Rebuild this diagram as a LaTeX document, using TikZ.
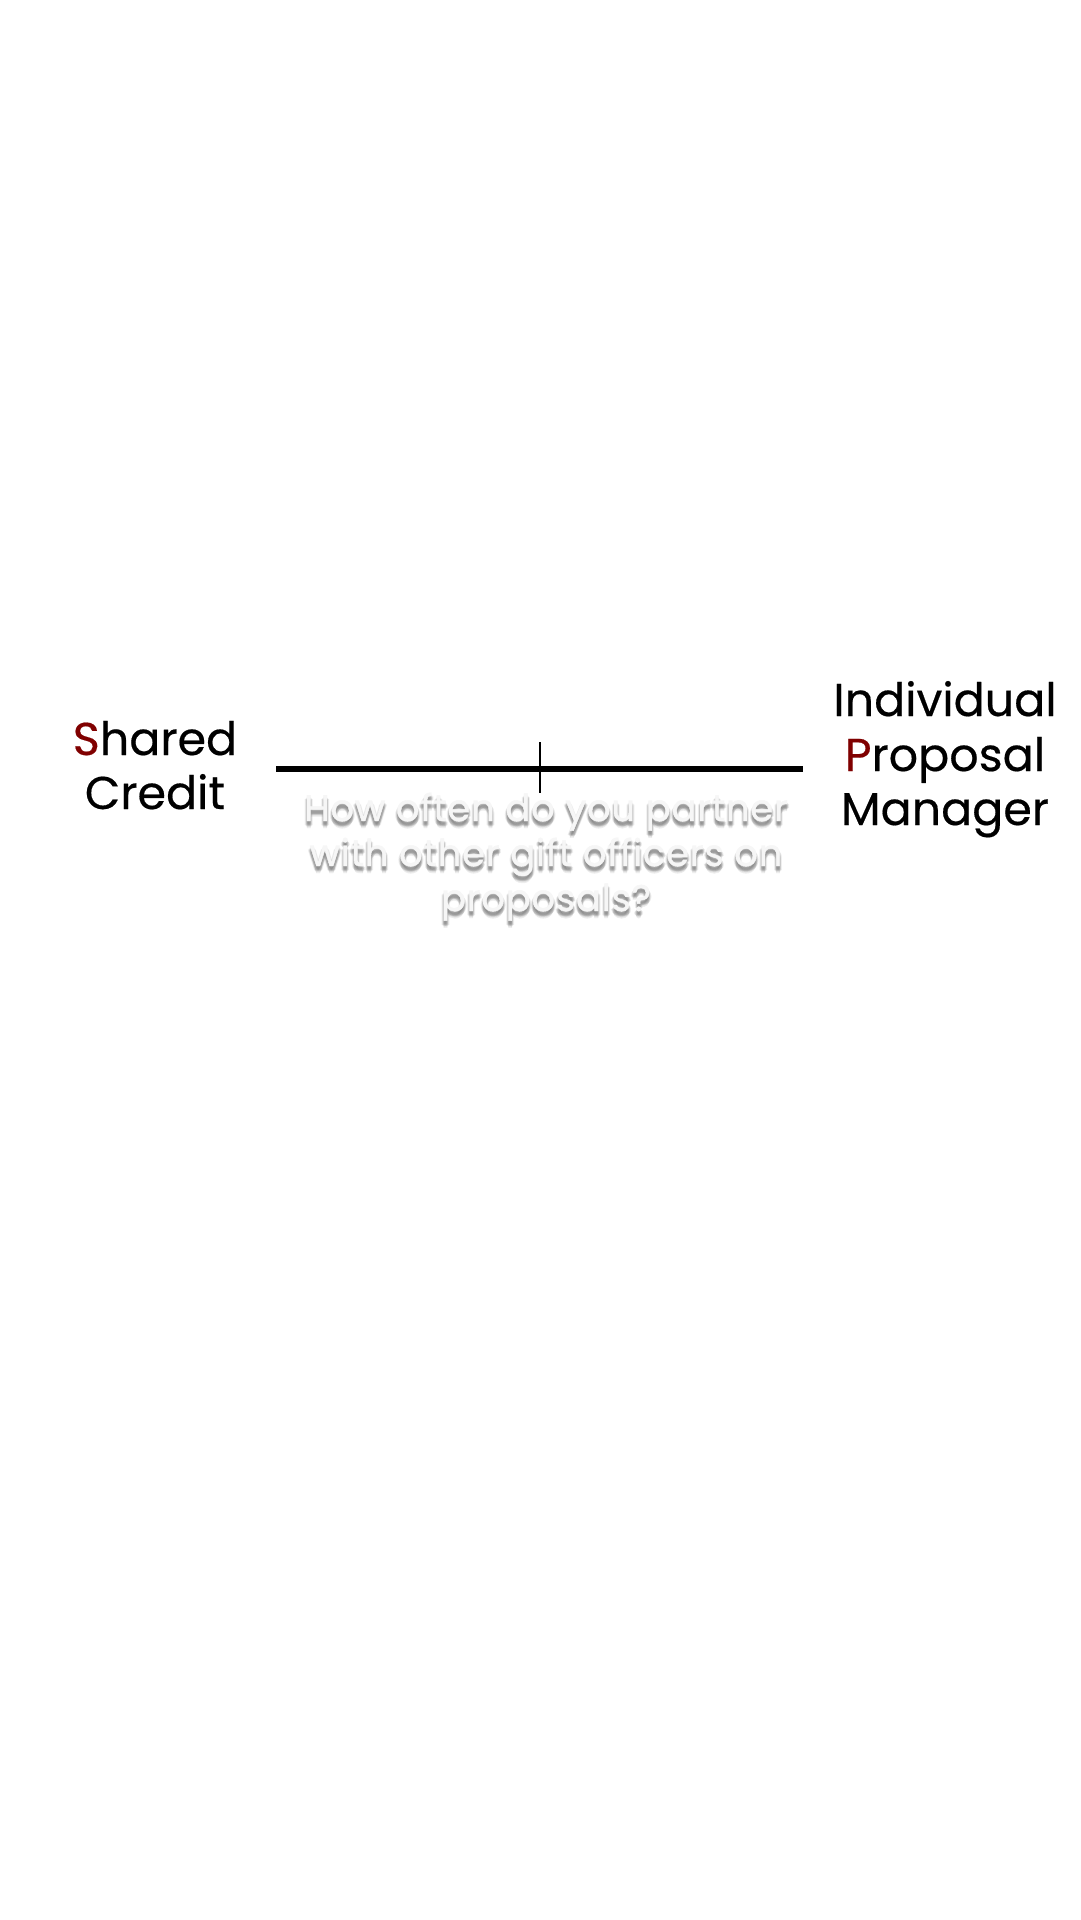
\documentclass[tikz,border=0pt]{standalone}
\usepackage{fontspec}
\setmainfont{Poppins}
\newfontfamily\labelfont[FakeBold=0.4]{Poppins}
\newfontfamily\qfont[FakeBold=1.2,LetterSpace=2]{Poppins}
\definecolor{accent}{RGB}{128,0,0}
\definecolor{qtext}{RGB}{246,246,246}
\definecolor{qshadow}{RGB}{120,120,120}
\tikzset{
  label/.style={font=\labelfont\fontsize{46}{56}\selectfont, text=black, anchor=base, inner sep=0pt},
  question/.style={font=\qfont\fontsize{37}{45}\selectfont, text=qtext, anchor=base, inner sep=0pt},
  qshade/.style={font=\qfont\fontsize{37}{45}\selectfont, text=qshadow, opacity=0.09, text opacity=0.09, anchor=base, inner sep=0pt},
  scale line/.style={line width=6pt, black},
  tickmark/.style={line width=2pt, black},
}
\newcommand{\qline}[3]{%
  \foreach \dx/\dy in {0/2,0/3,0/4,0/5,1/3,-1/3,1/4,-1/4,1/5,-1/5,0/6,2/4,-2/4,0/7}{
    \node[qshade] at ([xshift=\dx pt, yshift=-\dy pt]#2) {#3};
  }
  \node[question] (#1) at (#2) {#3};
}
\begin{document}
\begin{tikzpicture}[x=1pt,y=-1pt]
\useasboundingbox[fill=white] (0,0) rectangle (1080,1920);
% scale line
\coordinate (ls) at (276,769);
\coordinate (le) at (803,769);
\coordinate (tt) at (540,742);
\coordinate (tb) at (540,793);
\draw[scale line] (ls) -- (le);
\draw[tickmark] (tt) -- (tb);
% left label
\node[label] (lsh) at (155,755) {\textcolor{accent}{S}hared};
\node[label] (lcr) at (155,809) {Credit};
% right label
\node[label] (rin) at (945,716) {Individual};
\node[label] (rpr) at (945,771) {\textcolor{accent}{P}roposal};
\node[label] (rma) at (945,825) {Manager};
% question
\qline{q1}{546,821}{How often do you partner}
\qline{q2}{546,866}{with other gift officers on}
\qline{q3}{546,911}{proposals?}
\end{tikzpicture}
\end{document}
